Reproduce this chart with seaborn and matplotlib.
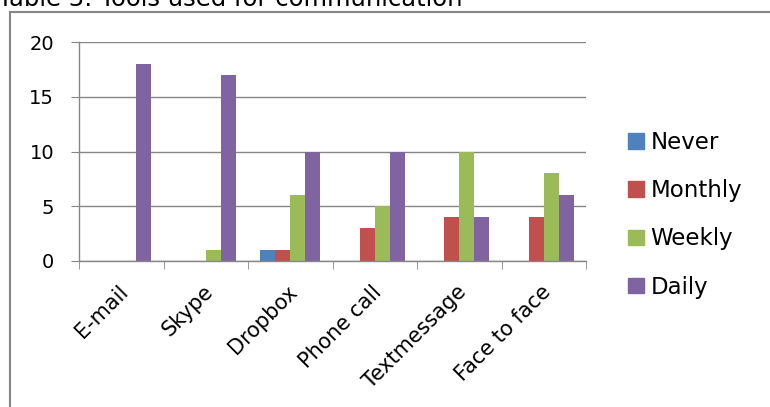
import matplotlib
matplotlib.use("Agg")
import matplotlib.pyplot as plt
import matplotlib.patches as mpatches
import matplotlib.transforms as mtransforms
import numpy as np
import pandas as pd
import seaborn as sns

tools = ["E-mail", "Skype", "Dropbox", "Phone call", "Textmessage", "Face to face"]
never = [0, 0, 1, 0, 0, 0]
monthly = [0, 0, 1, 3, 4, 4]
weekly = [0, 1, 6, 5, 10, 8]
daily = [18, 17, 10, 10, 4, 6]
freq_labels = ["Never", "Monthly", "Weekly", "Daily"]
colors = ["#4F81BD", "#C0504D", "#9BBB59", "#8064A2"]

rows = []
for lab, vals in zip(freq_labels, [never, monthly, weekly, daily]):
    for t, v in zip(tools, vals):
        rows.append({"Tool": t, "Frequency": lab, "Count": v})
df = pd.DataFrame(rows)

sns.set_style("white")
plt.rcParams["font.family"] = ["DejaVu Sans"]
plt.rcParams["text.color"] = "black"
plt.rcParams["xtick.color"] = "black"
plt.rcParams["ytick.color"] = "black"

fig = plt.figure(figsize=(7.7, 4.07), dpi=100)
ax = fig.add_axes([79 / 770, 1 - 261 / 407, 507 / 770, 219 / 407])

sns.barplot(data=df, x="Tool", y="Count", hue="Frequency", hue_order=freq_labels,
            palette=colors, saturation=1, width=0.71, linewidth=0, ax=ax, legend=False)

ax.set_ylim(0, 20)
ax.set_xlim(-0.5, 5.5)
ax.set_yticks([0, 5, 10, 15, 20])
ax.yaxis.grid(True, color="#868686", linewidth=1)
ax.set_axisbelow(True)
ax.set_xlabel("")
ax.set_ylabel("")
for s in ["top", "right"]:
    ax.spines[s].set_visible(False)
for s in ["left", "bottom"]:
    ax.spines[s].set_color("#868686")
    ax.spines[s].set_linewidth(1)

ax.set_xticks(np.arange(-0.5, 6, 1), minor=True)
ax.tick_params(axis="x", which="major", length=0, pad=20)
ax.tick_params(axis="x", which="minor", length=6, color="#868686", direction="out", bottom=True)
ax.tick_params(axis="y", length=6, color="#868686", direction="out", left=True, labelsize=14, pad=12)
ax.set_xticklabels(tools, rotation=45, ha="right", va="center", rotation_mode="anchor", fontsize=15)
shift = mtransforms.ScaledTranslation(4 / 100, 0, fig.dpi_scale_trans)
for lbl in ax.get_xticklabels():
    lbl.set_transform(lbl.get_transform() + shift)

handles = [mpatches.Patch(color=c, label=l) for c, l in zip(colors, freq_labels)]
fig.legend(handles=handles, loc="upper left", bbox_to_anchor=(628 / 770, 1 - 131 / 407),
           frameon=False, fontsize=16.5, handlelength=0.68, handleheight=0.68,
           handletextpad=0.3, labelspacing=1.1, borderaxespad=0, borderpad=0)

# outer chart frame (partially outside the crop)
fig.add_artist(mpatches.Rectangle((10 / 770, -0.1), 1.2, 1.1 - 12 / 407,
                                  transform=fig.transFigure, fill=False,
                                  edgecolor="#868686", linewidth=1.5))
fig.text(-2 / 770, 1 - 6 / 407, "Table 3: Tools used for communication", fontsize=17.5,
         ha="left", va="baseline")

fig.savefig("out.png", dpi=100)
